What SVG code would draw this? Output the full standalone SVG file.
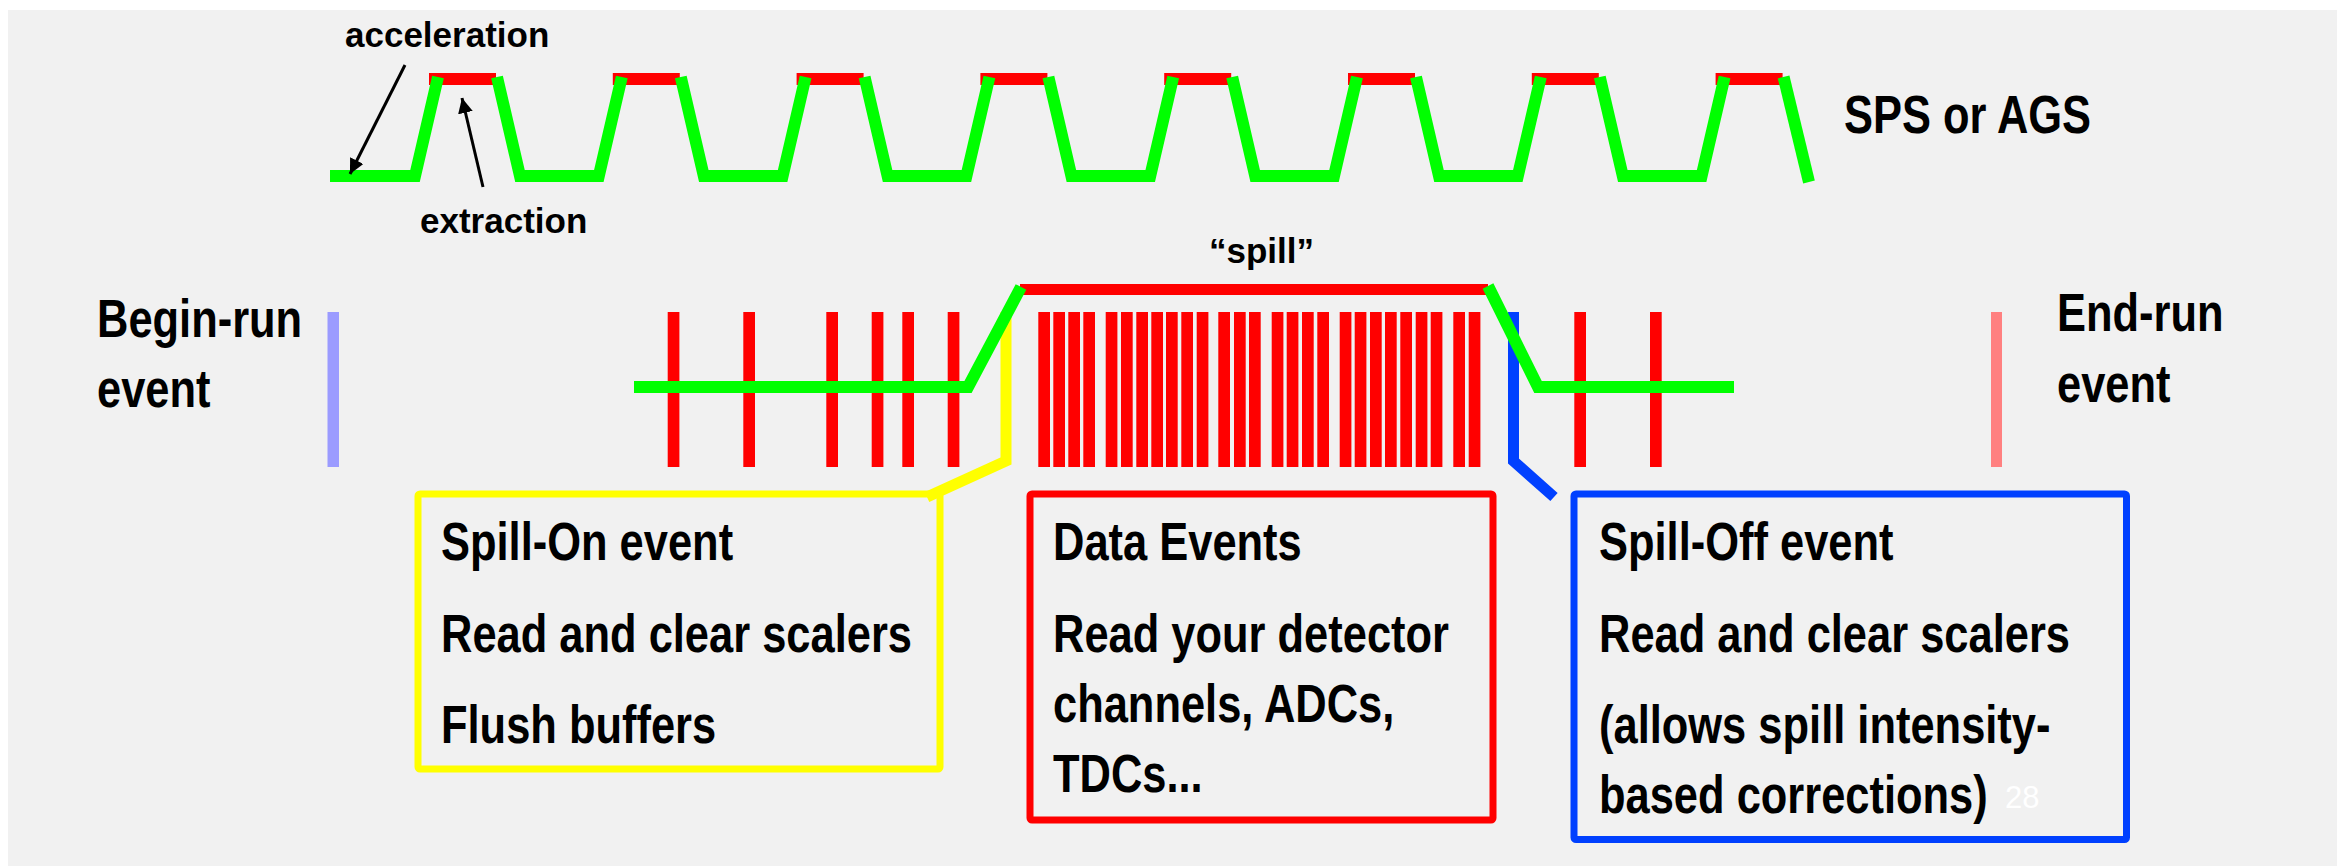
<svg xmlns="http://www.w3.org/2000/svg" width="2337" height="866" viewBox="0 0 2337 866">
<defs>
<style>
.bg{fill:#f1f1f1}
.nb{font-family:"Liberation Sans",Arial,sans-serif;font-weight:bold;font-size:53px;fill:#000}
.sm{font-family:"Liberation Sans",Arial,sans-serif;font-weight:bold;font-size:35px;fill:#000}
.pg{font-family:"Liberation Sans",Arial,sans-serif;font-size:31px;fill:#ffffff}
.grn{fill:none;stroke:#00ff00;stroke-width:12;stroke-linejoin:miter}
.redbar{fill:#ff0000}
.ev{fill:#ff0000}
.ybox{fill:none;stroke:#ffff00;stroke-width:7}
.rbox{fill:none;stroke:#ff0000;stroke-width:7}
.bbox{fill:none;stroke:#0040ff;stroke-width:7}
.arr{stroke:#000;stroke-width:3;fill:none}
</style>
<marker id="ah" viewBox="0 0 10 10" refX="10" refY="5" markerWidth="5" markerHeight="5" orient="auto" markerUnits="strokeWidth">
<path d="M0,0 L10,5 L0,10 z" fill="#000"/>
</marker>
</defs>
<rect x="0" y="0" width="2337" height="866" fill="#ffffff"/>
<rect class="bg" x="8" y="10" width="2329" height="856"/>

<g id="accelerator">
<rect class="redbar" x="429" y="73" width="67" height="12"/>
<rect class="redbar" x="612.8" y="73" width="67" height="12"/>
<rect class="redbar" x="796.6" y="73" width="67" height="12"/>
<rect class="redbar" x="980.4" y="73" width="67" height="12"/>
<rect class="redbar" x="1164.2" y="73" width="67" height="12"/>
<rect class="redbar" x="1348" y="73" width="67" height="12"/>
<rect class="redbar" x="1531.8" y="73" width="67" height="12"/>
<rect class="redbar" x="1715.6" y="73" width="67" height="12"/>
<path class="grn" d="M330,176 H415 L438,77"/>
<path class="grn" d="M497,77 L520,176 H598.8 L621.8,77"/>
<path class="grn" d="M680.8,77 L703.8,176 H782.6 L805.6,77"/>
<path class="grn" d="M864.6,77 L887.6,176 H966.4 L989.4,77"/>
<path class="grn" d="M1048.4,77 L1071.4,176 H1150.2 L1173.2,77"/>
<path class="grn" d="M1232.2,77 L1255.2,176 H1334 L1357,77"/>
<path class="grn" d="M1416,77 L1439,176 H1517.8 L1540.8,77"/>
<path class="grn" d="M1599.8,77 L1622.8,176 H1701.6 L1724.6,77"/>
<path class="grn" d="M1783.6,77 L1809,182"/>
<text class="sm" x="345" y="47">acceleration</text>
<text class="sm" x="420" y="233">extraction</text>
<text class="nb" transform="translate(1844,133) scale(0.82,1)">SPS or AGS</text>
</g>

<g id="begin-run">
<rect x="327.5" y="312" width="11.5" height="155" fill="#9b9bff"/>
<text class="nb" transform="translate(97,337) scale(0.82,1)">Begin-run</text>
<text class="nb" transform="translate(97,407) scale(0.82,1)">event</text>
</g>

<g id="end-run">
<rect x="1991" y="312" width="11" height="155" fill="#ff8080"/>
<text class="nb" transform="translate(2057,331) scale(0.82,1)">End-run</text>
<text class="nb" transform="translate(2057,402) scale(0.82,1)">event</text>
</g>

<g id="events">
<rect class="ev" x="667.7" y="312" width="11.7" height="155"/>
<rect class="ev" x="743.3" y="312" width="11.7" height="155"/>
<rect class="ev" x="826.3" y="312" width="11.7" height="155"/>
<rect class="ev" x="871.7" y="312" width="11.7" height="155"/>
<rect class="ev" x="902.3" y="312" width="11.7" height="155"/>
<rect class="ev" x="947.7" y="312" width="11.7" height="155"/>
<rect class="ev" x="1038.3" y="312" width="11.7" height="155"/>
<rect class="ev" x="1053.3" y="312" width="11.7" height="155"/>
<rect class="ev" x="1068.3" y="312" width="11.7" height="155"/>
<rect class="ev" x="1083.3" y="312" width="11.7" height="155"/>
<rect class="ev" x="1105.7" y="312" width="11.7" height="155"/>
<rect class="ev" x="1121" y="312" width="11.7" height="155"/>
<rect class="ev" x="1136.3" y="312" width="11.7" height="155"/>
<rect class="ev" x="1151.3" y="312" width="11.7" height="155"/>
<rect class="ev" x="1166" y="312" width="11.7" height="155"/>
<rect class="ev" x="1181.3" y="312" width="11.7" height="155"/>
<rect class="ev" x="1196.7" y="312" width="11.7" height="155"/>
<rect class="ev" x="1218.3" y="312" width="11.7" height="155"/>
<rect class="ev" x="1234" y="312" width="11.7" height="155"/>
<rect class="ev" x="1249" y="312" width="11.7" height="155"/>
<rect class="ev" x="1271.7" y="312" width="11.7" height="155"/>
<rect class="ev" x="1286.7" y="312" width="11.7" height="155"/>
<rect class="ev" x="1302" y="312" width="11.7" height="155"/>
<rect class="ev" x="1317.3" y="312" width="11.7" height="155"/>
<rect class="ev" x="1339.7" y="312" width="11.7" height="155"/>
<rect class="ev" x="1354.7" y="312" width="11.7" height="155"/>
<rect class="ev" x="1370" y="312" width="11.7" height="155"/>
<rect class="ev" x="1385" y="312" width="11.7" height="155"/>
<rect class="ev" x="1400.3" y="312" width="11.7" height="155"/>
<rect class="ev" x="1415.7" y="312" width="11.7" height="155"/>
<rect class="ev" x="1430.7" y="312" width="11.7" height="155"/>
<rect class="ev" x="1453.3" y="312" width="11.7" height="155"/>
<rect class="ev" x="1468.7" y="312" width="11.7" height="155"/>
<rect class="ev" x="1574.3" y="312" width="11.7" height="155"/>
<rect class="ev" x="1650" y="312" width="11.7" height="155"/>
</g>

<g id="connectors">
<path d="M1006,312 V461 L927,497" fill="none" stroke="#ffff00" stroke-width="11"/>
<path d="M1513.5,312 V461 L1554,497" fill="none" stroke="#0040ff" stroke-width="11"/>
<line class="arr" x1="405" y1="65" x2="350" y2="174" marker-end="url(#ah)"/>
<line class="arr" x1="483" y1="187" x2="462" y2="98" marker-end="url(#ah)"/>
</g>

<g id="spill">
<rect x="1020" y="284" width="468" height="11" fill="#ff0000"/>
<path class="grn" d="M634,387 H968 L1021,287"/>
<path class="grn" d="M1488,286 L1538,387 H1734"/>
<text class="sm" x="1209" y="263">“spill”</text>
</g>

<g id="spill-on">
<rect class="ybox" x="418" y="494" width="522" height="275" rx="2"/>
<text class="nb" transform="translate(441,560) scale(0.82,1)">Spill-On event</text>
<text class="nb" transform="translate(441,652) scale(0.82,1)">Read and clear scalers</text>
<text class="nb" transform="translate(441,743) scale(0.82,1)">Flush buffers</text>
</g>

<g id="data-events">
<rect class="rbox" x="1030" y="494" width="463" height="326" rx="2"/>
<text class="nb" transform="translate(1053,560) scale(0.82,1)">Data Events</text>
<text class="nb" transform="translate(1053,652) scale(0.82,1)">Read your detector</text>
<text class="nb" transform="translate(1053,722) scale(0.82,1)">channels, ADCs,</text>
<text class="nb" transform="translate(1053,792) scale(0.82,1)">TDCs...</text>
</g>

<g id="spill-off">
<rect class="bbox" x="1574" y="494" width="552.5" height="345.5" rx="2"/>
<text class="nb" transform="translate(1599,560) scale(0.82,1)">Spill-Off event</text>
<text class="nb" transform="translate(1599,652) scale(0.82,1)">Read and clear scalers</text>
<text class="nb" transform="translate(1599,743) scale(0.82,1)">(allows spill intensity-</text>
<text class="nb" transform="translate(1599,813) scale(0.82,1)">based corrections)</text>
<text class="pg" x="2005" y="808">28</text>
</g>
</svg>
